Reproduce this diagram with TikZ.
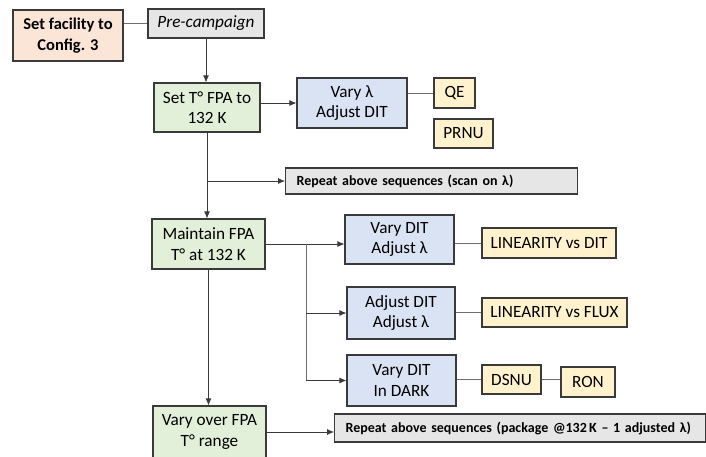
\documentclass[tikz,border=0pt]{standalone}
\usepackage{fontspec}
\setmainfont{Carlito}
\usetikzlibrary{arrows.meta,calc}
\definecolor{peach}{HTML}{FBE5D6}
\definecolor{greyfill}{HTML}{E7E6E6}
\definecolor{greenfill}{HTML}{E2F0D9}
\definecolor{bluefill}{HTML}{DAE3F3}
\definecolor{yellowfill}{HTML}{FFF2CC}
\definecolor{boxline}{HTML}{3A3A3A}
\definecolor{lineg}{HTML}{6E6E6E}
\definecolor{arrowc}{HTML}{3A3A3A}
\tikzset{
  box/.style={draw=boxline, line width=1.2pt, align=center, inner sep=0pt,
    font=\fontsize{17.2}{20.5}\selectfont},
  repbox/.style={draw=boxline, line width=1.2pt, fill=greyfill, anchor=west,
    inner xsep=11pt, inner ysep=0pt, align=left,
    font=\bfseries\fontsize{14}{16}\selectfont},
  conn/.style={draw=lineg, line width=0.9pt},
  arr/.style={draw=arrowc, line width=0.8pt, -{Latex[length=7pt,width=6pt]}},
}
\begin{document}
\begin{tikzpicture}[x=1pt,y=-1pt]
\useasboundingbox (0,0) rectangle (706,456);
% nodes
\node[box, fill=peach, minimum width=110, minimum height=51,
  font=\bfseries\fontsize{16.5}{20.5}\selectfont] (fac) at (68,35.5) {Set facility to\\Config. 3};
\node[box, fill=greyfill, minimum width=116, minimum height=29,
  font=\itshape\fontsize{17.2}{20.5}\selectfont] (pre) at (206,23.5) {Pre-campaign};
\node[box, fill=greenfill, minimum width=106, minimum height=49] (set) at (207,107.5) {Set T° FPA to\\132 K};
\node[box, fill=bluefill, minimum width=110, minimum height=50] (varyl) at (352,103) {Vary λ\\Adjust DIT};
\node[box, fill=yellowfill, minimum width=41, minimum height=30] (qe) at (454.5,93) {QE};
\node[box, fill=yellowfill, minimum width=59, minimum height=29] (prnu) at (463.5,133.5) {PRNU};
\node[repbox, text width=270, minimum height=26] (rep1) at (285,181) {Repeat above sequences (scan on λ)};
\node[box, fill=greenfill, minimum width=113, minimum height=50] (maint) at (208.5,244) {Maintain FPA\\T° at 132 K};
\node[box, fill=bluefill, minimum width=109, minimum height=49] (vdit) at (399.5,239.5) {Vary DIT\\Adjust λ};
\node[box, fill=yellowfill, minimum width=134, minimum height=30] (lindit) at (549,243) {LINEARITY vs DIT};
\node[box, fill=bluefill, minimum width=108, minimum height=52] (adit) at (401,313) {Adjust DIT\\Adjust λ};
\node[box, fill=yellowfill, minimum width=145, minimum height=29] (linflux) at (554.5,312.5) {LINEARITY vs FLUX};
\node[box, fill=bluefill, minimum width=109, minimum height=51] (dark) at (401.5,380.5) {Vary DIT\\In DARK};
\node[box, fill=yellowfill, minimum width=59, minimum height=29] (dsnu) at (511.5,379.5) {DSNU};
\node[box, fill=yellowfill, minimum width=54, minimum height=30] (ron) at (588,382) {RON};
\node[box, fill=greenfill, minimum width=113, minimum height=52] (vover) at (209.5,432) {Vary over FPA\\T° range};
\node[repbox, text width=349, minimum height=28] (rep2) at (334,428) {Repeat above sequences (package @132\,K – 1 adjusted λ)};
% connectors
\coordinate (j) at (306,0);
\draw[conn] (fac.east |- pre.west) -- (pre.west);
\draw[arr] (pre.south) -- (pre.south |- set.north);
\draw[arr] (set.east |- varyl.west) -- (varyl.west);
\draw[conn] (varyl.east |- qe.west) -- (qe.west);
\draw[arr] (set.south) -- (set.south |- maint.north);
\draw[arr] (set.south |- rep1.west) -- (rep1.west);
\draw[arr] (maint.east) -- (vdit.west |- maint.east);
\draw[conn] (j |- maint.east) -- (j |- dark.west);
\draw[arr] (j |- adit.west) -- (adit.west);
\draw[arr] (j |- dark.west) -- (dark.west);
\draw[conn] (vdit.east |- lindit.west) -- (lindit.west);
\draw[conn] (adit.east |- linflux.west) -- (linflux.west);
\draw[conn] (dark.east |- dsnu.west) -- (dsnu.west);
\draw[conn] (dsnu.east) -- (ron.west |- dsnu.east);
\draw[arr] (maint.south) -- (maint.south |- vover.north);
\draw[arr] (vover.east) -- (rep2.west |- vover.east);
\end{tikzpicture}
\end{document}
